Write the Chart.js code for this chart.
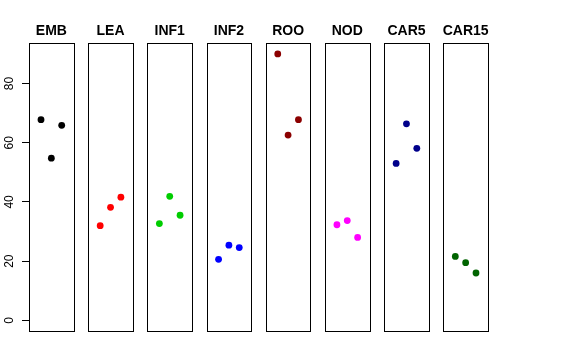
<!DOCTYPE html>
<html>
<head>
<meta charset="utf-8">
<script src="https://cdn.jsdelivr.net/npm/chart.js@4/dist/chart.umd.min.js"></script>
<style>
  body { margin: 0; background: #fff; }
  canvas { display: block; }
</style>
</head>
<body>
<canvas id="myChart" width="576" height="360"></canvas>
<script>
// data: 3 points per panel, left to right
var panels = ["EMB", "LEA", "INF1", "INF2", "ROO", "NOD", "CAR5", "CAR15"]
var colors = ["#000000", "#FF0000", "#00CD00", "#0000FF", "#8B0000", "#FF00FF", "#00008B", "#006400"]
var emb = [67.8, 54.8, 65.9]
var lea = [32.0, 38.2, 41.6]
var inf1 = [32.7, 41.9, 35.5]
var inf2 = [20.6, 25.4, 24.6]
var roo = [90.0, 62.6, 67.8]
var nod = [32.3, 33.7, 28.0]
var car5 = [53.0, 66.4, 58.1]
var car15 = [21.6, 19.5, 16.0]
var yTicks = [0, 20, 40, 60, 80]

var values = [emb, lea, inf1, inf2, roo, nod, car5, car15]

// each panel spans x = -0.16 .. 4.16 (R's 4% padding of 0..4), panels spaced by pitch
var pitch = 5.72
var pad = 0.16

var datasets = []
for (var k = 0; k < panels.length; k++) {
    var pts = []
    for (var i = 0; i < values[k].length; i++) {
        pts.push({x: k * pitch + i + 1, y: values[k][i]})
    }
    datasets.push({
        label: panels[k],
        data: pts,
        backgroundColor: colors[k],
        borderColor: colors[k],
        borderWidth: 0,
        pointRadius: 3.4
    })
}

var panelPlugin = {
    id: 'panels',
    afterDraw: function(chart) {
        var ctx = chart.ctx
        var xs = chart.scales.x
        var ys = chart.scales.y
        var top = chart.chartArea.top
        var bottom = chart.chartArea.bottom
        ctx.save()
        ctx.strokeStyle = '#000'
        ctx.lineWidth = 1
        for (var k = 0; k < panels.length; k++) {
            var l = Math.round(xs.getPixelForValue(k * pitch - pad)) + 0.5
            var r = Math.round(xs.getPixelForValue(k * pitch + 4 + pad)) + 0.5
            ctx.strokeRect(l, Math.round(top) + 0.5, r - l, Math.round(bottom) - Math.round(top))

            ctx.fillStyle = '#000'
            ctx.font = 'bold 14px "Liberation Sans", Arial, sans-serif'
            ctx.textAlign = 'center'
            ctx.textBaseline = 'alphabetic'
            ctx.fillText(panels[k], xs.getPixelForValue(k * pitch + 2), top - 8)
        }
        // y tick labels, rotated like R's axis()
        ctx.font = '12px "Liberation Sans", Arial, sans-serif'
        ctx.textAlign = 'center'
        ctx.textBaseline = 'alphabetic'
        ys.ticks.forEach(function(t) {
            var py = ys.getPixelForValue(t.value)
            ctx.save()
            ctx.translate(13, py)
            ctx.rotate(-Math.PI / 2)
            ctx.fillText(String(t.value), 0, 0)
            ctx.restore()
        })
        ctx.restore()
    }
}

var chart = new Chart(document.getElementById("myChart").getContext('2d'), {
    type: 'scatter',
    data: { datasets: datasets },
    options: {
        responsive: false,
        animation: false,
        devicePixelRatio: 1,
        layout: { padding: { left: 0, top: 43, right: 88, bottom: 29 } },
        plugins: { legend: { display: false }, tooltip: { enabled: false } },
        scales: {
            x: {
                type: 'linear',
                display: false,
                min: -pad,
                max: (panels.length - 1) * pitch + 4 + pad
            },
            y: {
                type: 'linear',
                min: -3.6,
                max: 93.7,
                afterBuildTicks: function(s) {
                    s.ticks = yTicks.map(function(v) { return {value: v} })
                },
                afterFit: function(s) { s.width = 29 },
                border: { display: false },
                grid: {
                    drawOnChartArea: false,
                    drawTicks: true,
                    tickLength: 7,
                    color: '#000',
                    lineWidth: 1
                },
                ticks: { display: false }
            }
        }
    },
    plugins: [panelPlugin]
})
</script>
</body>
</html>
